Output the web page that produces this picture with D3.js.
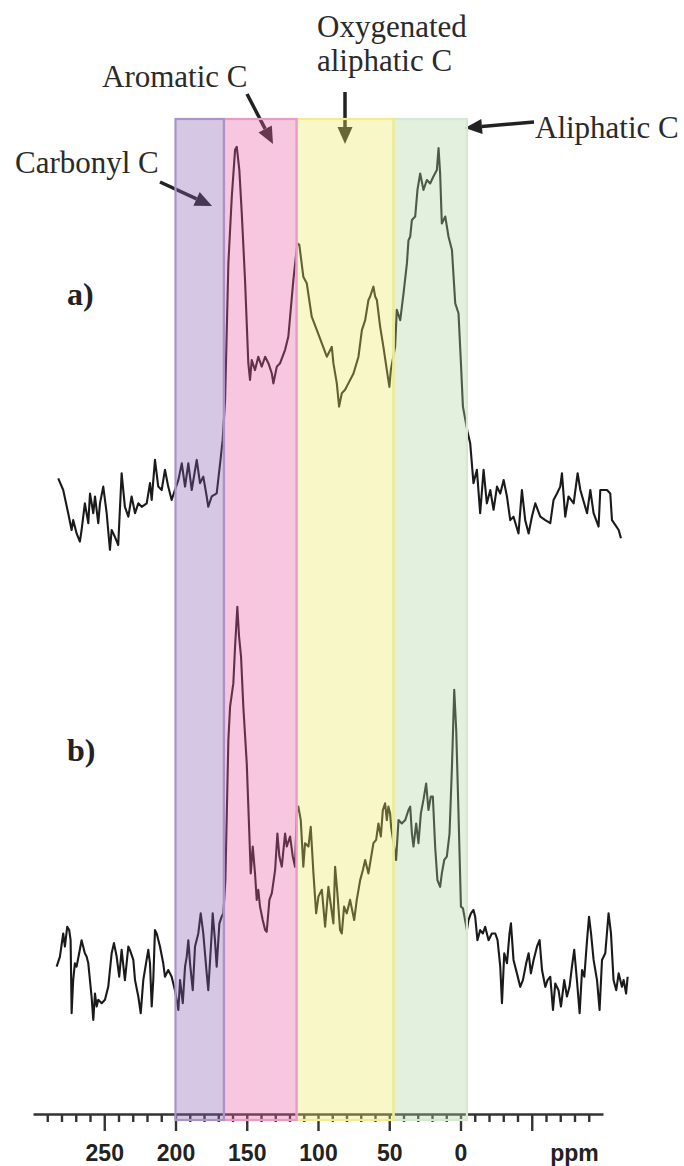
<!DOCTYPE html>
<html lang="en">
<head>
    <meta charset="UTF-8">
    <title>13C NMR spectra</title>
    <style>
        body {
            margin: 0;
            padding: 0;
            background: #fff;
        }

        .spectrum {
            fill: none;
            stroke: #1a1a1a;
            stroke-width: 2.1px;
            stroke-linejoin: round;
        }

        .label {
            font-family: 'Liberation Serif', 'Times New Roman', serif;
            font-size: 31px;
            fill: #2a2a2a;
        }

        .panel-label {
            font-family: 'Liberation Serif', 'Times New Roman', serif;
            font-size: 32px;
            font-weight: bold;
            fill: #222;
        }

        .axis path, .axis line {
            stroke: #333;
            stroke-width: 2.4px;
        }

        .axis text {
            font-family: 'Liberation Sans', Arial, sans-serif;
            font-size: 23px;
            font-weight: bold;
            fill: #222;
        }
    </style>
    <script src="https://cdn.jsdelivr.net/npm/d3@7"></script>
</head>
<body>
    <div id="chart"></div>

    <script>
        // chemical shift (ppm) and intensity (arbitrary units)
        const ppmA = [282.3, 278.8, 275.3, 272.9, 271.8, 269.4, 267.1, 265.9, 263.6, 261.2,
            260.0, 257.7, 256.5, 254.2, 253.0, 250.7, 248.3, 246.0, 244.8, 242.5,
            240.2, 237.8, 235.5, 233.1, 230.8, 228.4, 226.1, 223.7, 220.2, 217.9,
            216.7, 214.4, 212.1, 209.7, 207.4, 205.1, 202.7, 200.4, 198.0, 195.6,
            193.3, 191.0, 188.6, 185.1, 182.8, 180.5, 178.1, 177.0, 174.6, 171.1,
            168.7, 166.9, 165.2, 162.9, 160.5, 158.2, 157.0, 155.2, 153.5, 151.2,
            148.9, 147.7, 146.5, 144.2, 141.9, 139.5, 137.1, 134.8, 132.4, 131.3,
            128.9, 126.6, 123.1, 120.8, 117.3, 114.5, 113.1, 110.3, 107.9, 104.4,
            100.8, 97.3, 93.8, 90.3, 89.2, 86.8, 85.2, 83.3, 81.0, 78.7,
            75.1, 71.6, 69.2, 66.9, 64.6, 63.4, 61.1, 59.9, 58.7, 56.4,
            54.1, 51.7, 49.9, 48.9, 45.9, 44.7, 42.3, 40.0, 37.6, 36.5,
            35.3, 34.1, 31.8, 30.2, 28.3, 26.0, 23.6, 21.3, 19.0, 16.6,
            15.4, 14.3, 13.1, 10.7, 8.4, 6.0, 3.7, 1.4, -0.3, -1.7,
            -4.9, -6.8, -9.1, -11.5, -13.8, -16.2, -18.5, -20.9, -23.2, -25.6,
            -27.9, -30.3, -32.6, -34.9, -37.2, -40.7, -43.1, -45.4, -47.8, -50.1,
            -52.5, -56.0, -59.5, -63.0, -65.3, -67.7, -70.0, -71.2, -73.5, -75.8,
            -79.4, -82.2, -84.1, -88.8, -91.1, -93.4, -96.9, -98.1, -102.8, -105.1,
            -106.3, -108.6, -111.0, -112.6];
        const intA = [21.3, 18.6, 13.2, 9.3, 11.6, 8.5, 6.6, 9.3, 15.5, 10.9,
            17.8, 13.2, 17.1, 10.9, 15.5, 19.4, 13.2, 4.7, 9.3, 7.7,
            5.8, 22.5, 14.7, 12.4, 17.1, 13.2, 15.5, 14.7, 15.5, 20.2,
            16.3, 25.6, 19.4, 18.6, 23.3, 19.4, 16.3, 18.6, 20.9, 24.8,
            19.4, 24.8, 18.6, 25.6, 20.2, 21.7, 17.1, 14.7, 17.1, 17.8,
            24.8, 30.2, 39.5, 71.3, 86.8, 97.7, 98.4, 93.0, 83.0, 67.4,
            48.1, 44.2, 48.8, 46.5, 49.6, 47.3, 49.6, 48.1, 45.7, 43.4,
            47.3, 48.1, 51.2, 54.3, 67.4, 76.0, 75.6, 68.2, 66.7, 58.9,
            55.8, 52.7, 49.6, 51.9, 48.1, 43.4, 38.0, 41.1, 41.9, 43.4,
            45.7, 49.6, 55.8, 58.1, 62.8, 63.6, 65.9, 63.6, 62.8, 56.6,
            51.9, 46.5, 42.6, 46.5, 51.9, 60.5, 58.1, 64.3, 71.3, 76.7,
            77.5, 81.4, 82.2, 88.4, 92.2, 88.4, 90.7, 89.9, 91.5, 93.0,
            98.1, 92.2, 80.6, 82.2, 77.5, 74.4, 62.0, 59.7, 48.1, 38.0,
            32.2, 29.5, 20.2, 23.3, 13.2, 23.3, 15.5, 18.6, 14.0, 19.4,
            17.8, 20.9, 17.1, 11.6, 12.4, 8.5, 18.6, 11.6, 8.5, 12.4,
            15.5, 12.4, 11.6, 10.9, 16.3, 17.8, 19.4, 22.5, 12.4, 17.1,
            15.5, 22.5, 18.6, 13.2, 18.6, 13.2, 10.1, 18.6, 18.6, 17.8,
            11.6, 10.5, 9.3, 7.4];

        const ppmB = [283.4, 281.1, 278.8, 277.6, 276.0, 274.6, 273.6, 272.9, 271.8, 270.6,
            269.4, 267.6, 265.9, 263.6, 262.4, 261.2, 258.9, 257.7, 256.5, 255.3,
            254.2, 251.8, 249.5, 247.2, 244.8, 243.2, 241.3, 239.5, 237.8, 235.5,
            233.1, 232.0, 229.6, 228.4, 226.1, 224.4, 222.6, 220.7, 219.1, 217.9,
            216.7, 215.6, 214.4, 213.2, 210.9, 208.6, 207.4, 205.1, 202.7, 200.4,
            198.0, 196.8, 194.9, 193.3, 192.1, 191.0, 189.8, 187.9, 186.3, 184.0,
            182.3, 180.5, 178.1, 177.0, 174.6, 173.9, 172.3, 171.1, 169.2, 167.6,
            166.4, 165.0, 164.0, 162.9, 161.7, 159.4, 158.2, 156.6, 155.4, 154.0,
            152.4, 150.0, 148.2, 147.2, 145.8, 144.2, 143.0, 141.9, 140.7, 138.8,
            137.1, 136.0, 134.1, 132.4, 130.1, 128.5, 127.1, 125.4, 123.1, 121.9,
            119.6, 117.7, 116.1, 114.9, 113.8, 112.1, 110.3, 109.1, 106.7, 105.1,
            103.2, 101.3, 99.7, 97.3, 95.0, 92.7, 91.5, 89.2, 88.0, 86.4,
            84.5, 83.3, 81.7, 79.8, 77.5, 74.6, 72.8, 70.4, 68.5, 66.9,
            64.6, 61.1, 59.2, 57.6, 55.9, 54.5, 52.9, 51.7, 50.6, 49.4, 48.7,
            45.2, 43.5, 41.2, 38.8, 36.5, 35.3, 34.1, 33.0, 31.1, 29.5,
            27.8, 26.0, 24.1, 22.5, 20.8, 19.4, 17.8, 16.2, 14.3, 13.1,
            11.4, 9.6, 7.7, 6.0, 4.4, 3.0, 1.4, -0.3, -1.7, -4.5,
            -5.6, -7.3, -9.1, -10.3, -11.9, -13.8, -15.7, -17.3, -19.7, -22.0,
            -24.4, -26.0, -27.9, -29.1, -30.7, -32.6, -34.4, -35.4, -37.2, -39.6,
            -41.9, -43.8, -46.1, -47.8, -49.4, -51.3, -53.7, -55.5, -57.2, -59.5,
            -61.1, -63.0, -64.9, -66.5, -68.8, -70.5, -72.8, -74.7, -76.5, -78.2,
            -79.8, -81.7, -83.6, -85.3, -86.9, -88.8, -90.2, -91.6, -93.4, -95.8,
            -97.6, -99.3, -101.6, -103.9, -105.6, -107.4, -109.3, -111.0, -113.3, -114.5,
            -116.2, -117.3];
        const intB = [12.7, 15.1, 20.6, 17.5, 22.2, 21.4, 19.0, 1.6, 9.5, 13.5,
            12.7, 15.9, 19.0, 15.9, 15.1, 13.5, 5.6, 0, 6.3, 3.2,
            4.8, 4.0, 4.8, 7.9, 15.9, 18.3, 15.1, 10.3, 16.7, 9.5,
            17.5, 16.7, 14.3, 9.5, 5.6, 1.6, 9.5, 13.5, 16.7, 13.5,
            3.2, 9.5, 21.4, 20.6, 17.5, 13.5, 10.3, 11.9, 10.3, 7.1,
            2.4, 9.5, 4.0, 12.7, 15.1, 19.0, 13.5, 7.1, 17.5, 20.6,
            25.4, 20.6, 11.1, 7.1, 20.6, 25.4, 19.0, 12.7, 23.0, 24.6,
            25.4, 33.3, 49.2, 66.7, 74.6, 80.2, 88.9, 98.4, 91.3, 86.5,
            74.6, 61.1, 44.4, 34.9, 41.3, 34.9, 28.6, 31.0, 27.0, 23.8,
            21.4, 21.0, 28.6, 30.2, 35.7, 44.4, 38.9, 36.5, 44.4, 41.3,
            43.7, 38.9, 36.5, 49.2, 50.8, 47.6, 36.5, 42.1, 41.3, 46.0,
            34.9, 25.4, 29.4, 31.0, 22.2, 31.7, 28.6, 23.0, 36.5, 30.2,
            21.4, 20.6, 27.0, 25.4, 28.6, 23.8, 28.6, 33.3, 35.7, 38.1,
            34.9, 42.1, 42.9, 46.8, 43.7, 50.0, 51.6, 47.6, 50.8, 49.2, 46.0,
            38.1, 47.6, 46.8, 47.6, 50.0, 50.8, 44.4, 41.3, 46.8, 42.1,
            49.2, 52.4, 56.3, 50.0, 53.2, 53.2, 41.3, 33.3, 31.7, 34.9,
            38.1, 38.9, 44.4, 60.3, 78.6, 69.0, 49.2, 27.0, 26.6, 21.4,
            23.8, 25.4, 26.2, 24.6, 19.0, 21.4, 20.6, 22.2, 19.0, 20.6,
            20.6, 19.0, 12.7, 4.0, 15.9, 13.5, 20.6, 23.0, 14.3, 11.1,
            7.9, 9.5, 13.5, 15.9, 11.1, 14.3, 17.5, 19.0, 11.9, 7.9,
            9.5, 10.3, 2.4, 8.7, 7.1, 3.2, 9.5, 5.6, 7.9, 12.7,
            16.7, 9.5, 1.6, 11.9, 10.3, 19.0, 24.6, 20.6, 14.3, 9.5,
            2.4, 14.3, 15.9, 25.4, 20.6, 9.5, 7.1, 11.1, 7.9, 9.5,
            6.3, 10.3];

        // shaded chemical shift regions
        const regionNames = ['Carbonyl C', 'Aromatic C', 'Oxygenated aliphatic C', 'Aliphatic C'];
        const regionFrom = [200, 166, 115, 47];
        const regionTo = [166, 115, 47, -4.5];

        // axis ticks
        const majorTicks = [250, 200, 150, 100, 50, 0, -50];
        const tickLabels = ['250', '200', '150', '100', '50', '0', ''];
        const minorTicks = d3.range(-90, 300, 10).filter(v => v % 50 !== 0);

        const width = 684, height = 1166;
        const axisY = 1114;
        const bandTop = 119, bandBottom = 1120;

        const svg = d3.select('#chart').append('svg')
            .attr('width', width)
            .attr('height', height);

        const x = d3.scaleLinear().domain([300, -100]).range([33, 603]);
        const yA = d3.scaleLinear().domain([0, 100]).range([570, 140]);
        const yB = d3.scaleLinear().domain([0, 100]).range([1020, 600]);

        // spectra
        function drawSpectrum(ppm, vals, y) {
            const pts = d3.zip(ppm, vals);
            const line = d3.line().x(d => x(d[0])).y(d => y(d[1]));
            svg.append('path')
                .datum(pts)
                .attr('class', 'spectrum')
                .attr('d', line);
        }
        drawSpectrum(ppmA, intA, yA);
        drawSpectrum(ppmB, intB, yB);

        // ppm axis: minor then major ticks
        svg.append('g')
            .attr('class', 'axis')
            .attr('transform', `translate(0,${axisY})`)
            .call(d3.axisBottom(x).tickValues(minorTicks).tickSize(8).tickSizeOuter(0).tickFormat(''));

        const major = svg.append('g')
            .attr('class', 'axis')
            .attr('transform', `translate(0,${axisY})`)
            .call(d3.axisBottom(x).tickValues(majorTicks).tickSize(17).tickSizeOuter(0)
                .tickFormat((d, i) => tickLabels[i]));
        major.select('.domain').remove();
        major.selectAll('text').attr('y', 31).attr('dy', '0.71em');

        svg.append('text')
            .attr('x', x(-80))
            .attr('y', axisY + 31)
            .attr('dy', '0.71em')
            .attr('text-anchor', 'middle')
            .style('font-family', "'Liberation Sans', Arial, sans-serif")
            .style('font-size', '23px')
            .style('font-weight', 'bold')
            .style('fill', '#222')
            .text('ppm');

        // annotation arrows (drawn under the shading, like the original)
        const arrows = [
            [160, 182, 212, 206],
            [247, 94, 273, 144],
            [345, 92, 345, 144],
            [534, 122, 465, 128]
        ];
        arrows.forEach(a => {
            const [x1, y1, x2, y2] = a;
            const ang = Math.atan2(y2 - y1, x2 - x1);
            const len = 17, half = 7.5;
            const bx = x2 - len * Math.cos(ang), by = y2 - len * Math.sin(ang);
            svg.append('line')
                .attr('x1', x1).attr('y1', y1)
                .attr('x2', bx).attr('y2', by)
                .attr('stroke', '#222')
                .attr('stroke-width', 3.5);
            const px = -Math.sin(ang) * half, py = Math.cos(ang) * half;
            svg.append('path')
                .attr('d', `M${x2},${y2}L${bx + px},${by + py}L${bx - px},${by - py}Z`)
                .attr('fill', '#222');
        });

        // translucent bands on top of everything, drawn right to left so the
        // left band's edge colour wins on shared borders
        const bandFill = ['#8a62b2', '#e55fa1', '#ebe862', '#abd49f'];
        const bandEdge = ['#a994c8', '#e89cc4', '#f2ec8a', '#d4e9ce'];
        for (let i = regionNames.length - 1; i >= 0; i--) {
            svg.append('rect')
                .attr('x', x(regionFrom[i]))
                .attr('y', bandTop)
                .attr('width', x(regionTo[i]) - x(regionFrom[i]))
                .attr('height', bandBottom - bandTop)
                .attr('fill', bandFill[i])
                .attr('fill-opacity', 0.35)
                .attr('stroke', bandEdge[i])
                .attr('stroke-width', 2.2);
        }

        // region labels
        const labels = [
            ['Carbonyl C', 15, 173],
            ['Aromatic C', 102, 87],
            ['Oxygenated', 317, 37],
            ['aliphatic C', 317, 71],
            ['Aliphatic C', 535, 138]
        ];
        svg.selectAll('.label')
            .data(labels)
            .enter().append('text')
            .attr('class', 'label')
            .attr('x', d => d[1])
            .attr('y', d => d[2])
            .text(d => d[0]);

        svg.append('text').attr('class', 'panel-label').attr('x', 67).attr('y', 305).text('a)');
        svg.append('text').attr('class', 'panel-label').attr('x', 67).attr('y', 761).text('b)');
    </script>
</body>
</html>
